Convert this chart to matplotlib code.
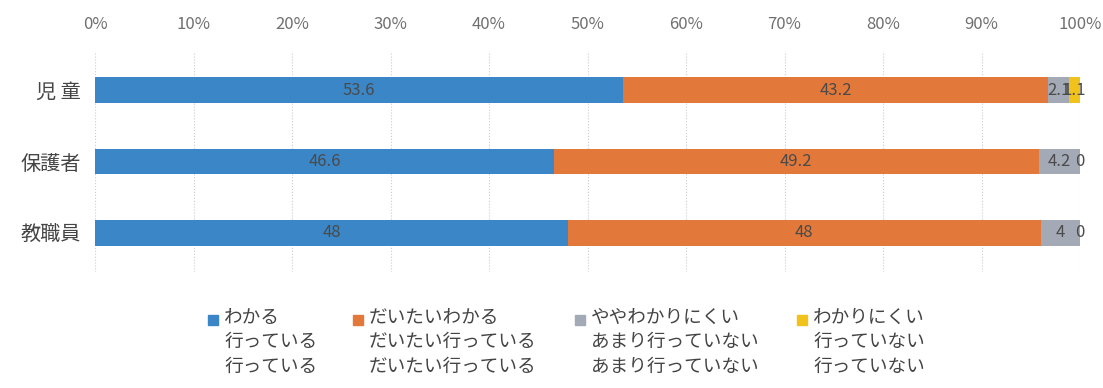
import matplotlib.pyplot as plt
from matplotlib.patches import Rectangle

plt.rcParams['font.family'] = ['Noto Sans CJK JP', 'DejaVu Sans']

# data
groups = ["児 童", "保護者", "教職員"]
wakaru = [53.6, 46.6, 48]
daitai = [43.2, 49.2, 48]
yaya = [2.1, 4.2, 4]
wakarinikui = [1.1, 0, 0]

series_labels = ["わかる\n行っている\n行っている",
                 "だいたいわかる\nだいたい行っている\nだいたい行っている",
                 "ややわかりにくい\nあまり行っていない\nあまり行っていない",
                 "わかりにくい\n行っていない\n行っていない"]
colors = ["#3a86c6", "#e2783a", "#a4a9b6", "#f1c21b"]
ticks = [0, 10, 20, 30, 40, 50, 60, 70, 80, 90, 100]

fig = plt.figure(figsize=(11.03, 3.88), dpi=100)
ax = fig.add_axes([95 / 1103, 1 - 272 / 388, 985 / 1103, 221 / 388])

y = list(range(len(groups)))
left = [0] * len(groups)
for vals, col in zip([wakaru, daitai, yaya, wakarinikui], colors):
    bars = ax.barh(y, vals, left=left, height=0.36, color=col, zorder=3)
    ax.bar_label(bars, fmt='%g', label_type='center', fontsize=12,
                 color='#4a4a4a', zorder=4)
    left = [l + v for l, v in zip(left, vals)]

ax.set_xlim(0, 100)
ax.set_ylim(2.55, -0.55)
ax.set_xticks(ticks)
ax.set_xticklabels(["{0}%".format(t) for t in ticks])
ax.xaxis.tick_top()
ax.tick_params(axis='x', length=0, pad=13, labelsize=12, labelcolor='#707070')
ax.set_yticks(y)
ax.set_yticklabels(groups)
ax.tick_params(axis='y', length=0, pad=10, labelsize=14.5, labelcolor='#444444')
ax.grid(axis='x', color='#cccccc', linestyle=':', linewidth=0.8, zorder=0)
for s in ax.spines.values():
    s.set_visible(False)

# legend drawn by hand so the square sits at the first line
leg_x = [208, 353, 575, 797]
for lx, lab, col in zip(leg_x, series_labels, colors):
    fig.add_artist(Rectangle((lx / 1103, 1 - 325 / 388), 10 / 1103, 10 / 388,
                             transform=fig.transFigure, color=col))
    fig.text((lx + 16) / 1103, 1 - 309 / 388, lab, fontsize=13.4, color='#444444',
             va='top', ha='left', linespacing=1.45)

fig.savefig("out.png", dpi=100)
